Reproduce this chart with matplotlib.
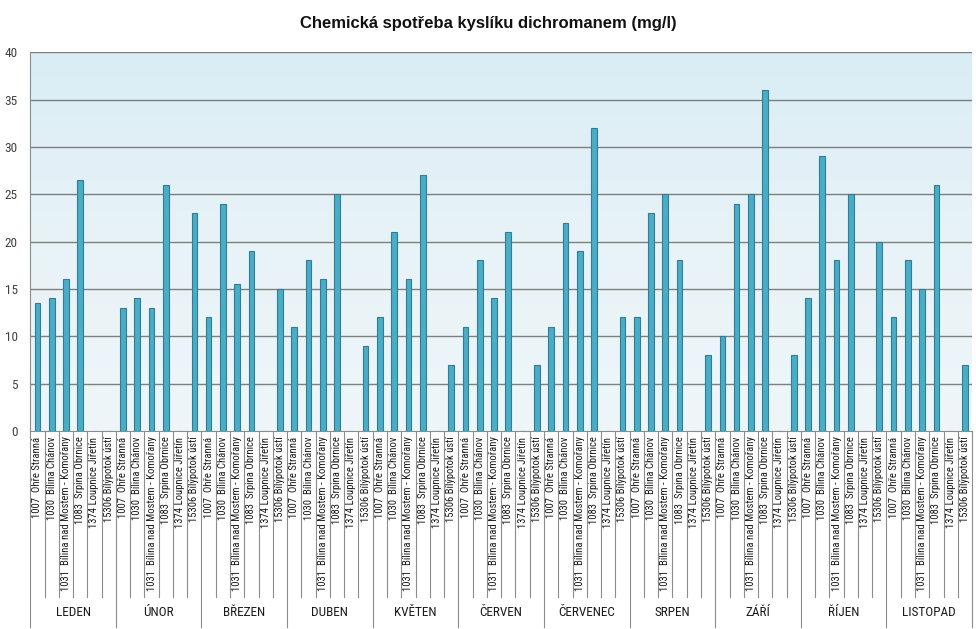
import numpy as np
import matplotlib
matplotlib.use('Agg')
import matplotlib.pyplot as plt
from matplotlib.colors import LinearSegmentedColormap
import matplotlib.transforms as mtransforms
from matplotlib import font_manager

# pick a narrow font if one is installed
installed = font_manager.fontManager.ttflist
names = {f.name for f in installed}
narrow = None
for cand in ['Liberation Sans Narrow', 'Arial Narrow', 'Roboto Condensed',
             'Open Sans Condensed', 'Noto Sans Condensed']:
    if cand in names:
        narrow = cand
        break
stretch = 'normal'
if narrow is None:
    narrow = 'DejaVu Sans'
    if any(f.name == 'DejaVu Sans' and f.stretch == 'condensed' for f in installed):
        stretch = 'condensed'

plt.rcParams['font.family'] = [narrow, 'Liberation Sans', 'DejaVu Sans']

# DATA
MONTHS = ["LEDEN", "ÚNOR", "BŘEZEN", "DUBEN", "KVĚTEN", "ČERVEN",
          "ČERVENEC", "SRPEN", "ZÁŘÍ", "ŘÍJEN", "LISTOPAD"]
STATIONS = ["1007  Ohře Stranná", "1030  Bílina Chánov",
            "1031  Bílina nad Mostem - Komořany", "1083  Srpina Obrnice",
            "1374 Loupnice Jiřetín", "15306 Bílýpotok ústí"]
# one row per month, columns follow STATIONS (nan = no value)
leden = [13.5, 14, 16, 26.5, np.nan, np.nan]
unor = [13, 14, 13, 26, np.nan, 23]
brezen = [12, 24, 15.5, 19, np.nan, 15]
duben = [11, 18, 16, 25, np.nan, 9]
kveten = [12, 21, 16, 27, np.nan, 7]
cerven = [11, 18, 14, 21, np.nan, 7]
cervenec = [11, 22, 19, 32, np.nan, 12]
srpen = [12, 23, 25, 18, np.nan, 8]
zari = [10, 24, 25, 36, np.nan, 8]
rijen = [14, 29, 18, 25, np.nan, 20]
listopad = [12, 18, 15, 26, np.nan, 7]
VALUES = [leden, unor, brezen, duben, kveten, cerven,
          cervenec, srpen, zari, rijen, listopad]

values = np.array(VALUES, dtype=float).ravel()
n_st = len(STATIONS)
n = len(values)
x = np.arange(n)

fig = plt.figure(figsize=(9.76, 6.29), dpi=100)
ax = fig.add_axes([0.031, 0.315, 0.965, 0.602])

# gradient background of the plot area
cmap = LinearSegmentedColormap.from_list('bg', ['#eef6f9', '#e8f3f7', '#d9edf5'])
grad = np.linspace(0, 1, 256).reshape(-1, 1)
ax.imshow(grad, cmap=cmap, aspect='auto', origin='lower',
          extent=[-0.5, n - 0.5, 0, 40], zorder=0)

ax.set_xlim(-0.5, n - 0.5)
ax.set_ylim(0, 40)
ax.set_yticks(np.arange(0, 41, 5))
for yv in np.arange(5, 41, 5):
    ax.axhline(yv, color='#7f7f7f', lw=1.0, zorder=1)

ax.bar(x, np.nan_to_num(values), width=0.4, color='#4bacc6',
       edgecolor='#2b7f98', linewidth=0.8, zorder=2)

for s in ['top', 'right']:
    ax.spines[s].set_visible(False)
ax.spines['left'].set_color('#8c8c8c')
ax.spines['bottom'].set_color('#8c8c8c')
ax.tick_params(axis='y', length=0, labelsize=9.5, colors='#404040', pad=9)
for lab in ax.get_yticklabels():
    lab.set_fontstretch(stretch)
ax.set_xticks([])

# category labels and separators under the axis
trans = mtransforms.blended_transform_factory(ax.transData, ax.transAxes)
labels = []
for i in range(n):
    t = ax.text(i, -0.015, STATIONS[i % n_st], rotation=90, ha='center', va='top',
                fontsize=8.5, fontstretch=stretch, color='#1a1a1a', transform=trans)
    labels.append(t)

# shrink the station labels so the longest fits above the month row
fig.canvas.draw()
r = fig.canvas.get_renderer()
longest = max(t.get_window_extent(r).height for t in labels)
target = 153.0
if longest > target:
    fs = 8.5 * target / longest
    for t in labels:
        t.set_fontsize(fs)

for i in range(n + 1):
    xb = i - 0.5
    bottom = -0.517 if i % n_st == 0 else -0.438
    ax.plot([xb, xb], [0, bottom], color='#8c8c8c', lw=0.8,
            transform=trans, clip_on=False)
for m, name in enumerate(MONTHS):
    ax.text(m * n_st + (n_st - 1) / 2, -0.48, name, ha='center', va='center',
            fontsize=9.5, fontstretch=stretch, color='#1a1a1a', transform=trans)

fig.text(0.5, 0.962, 'Chemická spotřeba kyslíku dichromanem (mg/l)',
         ha='center', va='center', fontsize=12, fontweight='bold',
         family=['Liberation Sans', 'DejaVu Sans'], color='#111111')

fig.savefig('out.png', dpi=100)
